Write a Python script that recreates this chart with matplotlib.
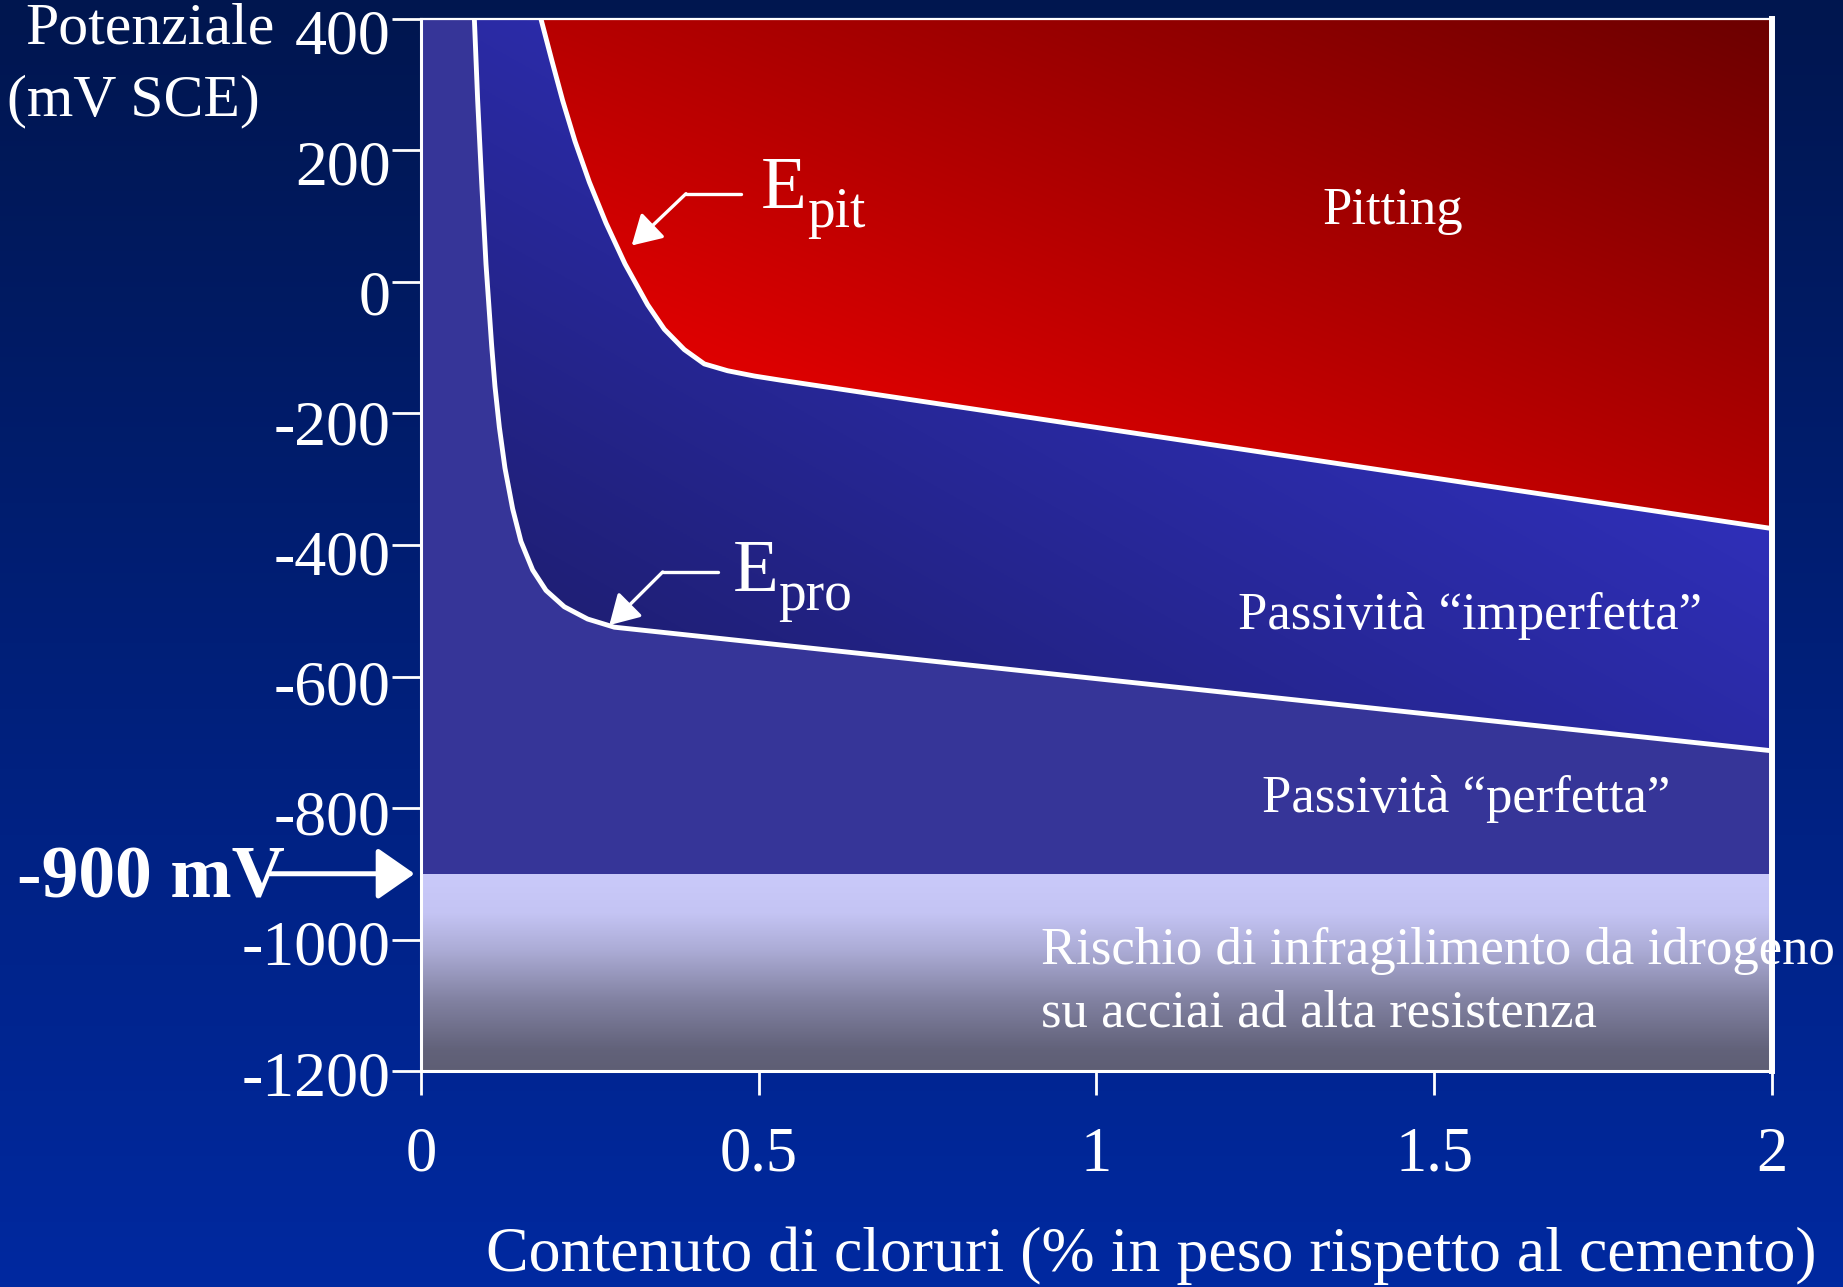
import numpy as np
import matplotlib
matplotlib.use("Agg")
import matplotlib.pyplot as plt
from matplotlib.colors import LinearSegmentedColormap
from matplotlib.patches import Polygon
from matplotlib.transforms import ScaledTranslation

plt.rcParams['font.family'] = ['Liberation Serif', 'DejaVu Serif']

# ---------------- data ----------------
x_min, x_max = 0.0, 2.0
y_min, y_max = -1200, 400
h_limit = -900          # -900 mV line

# protection potential curve (E_pro)
epro_x = [0.079, 0.0839, 0.0898, 0.0962, 0.1046, 0.1095, 0.116, 0.1243, 0.1357, 0.148,
          0.1653, 0.185, 0.2122, 0.2467, 0.2862, 2.0]
epro_y = [400, 276, 152, 27.5, -96.6, -158.7, -221, -283, -345, -394.6,
          -438, -469, -494, -512.6, -525, -713]
# pitting potential curve (E_pit)
epit_x = [0.1776, 0.1934, 0.2097, 0.228, 0.2492, 0.2739, 0.302, 0.3355, 0.3602, 0.3898,
          0.4194, 0.454, 0.4935, 0.533, 2.0]
epit_y = [400, 338, 276, 214, 152, 89.6, 27.5, -34.6, -71.8, -102.8,
          -124.6, -135, -143, -149.4, -375]

xticks = [0, 0.5, 1, 1.5, 2]
xtick_labels = ['0', '0.5', '1', '1.5', '2']
yticks = [400, 200, 0, -200, -400, -600, -800, -1000, -1200]
ytick_labels = ['400', '200', '0', '-200', '-400', '-600', '-800', '-1000', '-1200']

region_labels = ['Pitting', 'Passività “imperfetta”', 'Passività “perfetta”',
                 'Rischio di infragilimento da idrogeno\nsu acciai ad alta resistenza']
xlabel = 'Contenuto di cloruri (% in peso rispetto al cemento)'
ylabel_lines = ['Potenziale', '(mV SCE)']

# ---------------- colours ----------------
bg_cmap = LinearSegmentedColormap.from_list('bg', ['#00164f', '#001f78', '#0029a0'])
red_cmap = LinearSegmentedColormap.from_list('red', [(0, '#f00000'), (0.25, '#dc0000'), (1, '#6c0000')])
blue_cmap = LinearSegmentedColormap.from_list('blu', [(0, '#1c1c6c'), (0.13, '#1f1f76'),
                                                     (0.65, '#2f2fb8'), (1, '#3636c8')])
hyd_cmap = LinearSegmentedColormap.from_list('hyd', [(0, '#5e5e74'), (0.107, '#62627a'),
                                                    (0.36, '#8282a2'), (0.613, '#acacd6'),
                                                    (0.8, '#c4c4f4'), (1, '#cacafa')])
perf_color = '#363598'

fig = plt.figure(figsize=(18.43, 12.87), dpi=100)

# background gradient
bg = fig.add_axes([0, 0, 1, 1])
bg.imshow(np.linspace(0, 1, 256)[:, None], cmap=bg_cmap, aspect='auto', extent=[0, 1, 0, 1])
bg.set_axis_off()

ax = fig.add_axes([0.22843, 0.16783, 0.73304, 0.81741])
ax.set_facecolor('none')


def gradient_fill(verts, cmap, mode='diag', zorder=1):
    xs = [v[0] for v in verts]
    ys = [v[1] for v in verts]
    n = 400
    u = np.linspace(0, 1, n)
    U, V = np.meshgrid(u, u)
    T = (U + V) / 2 if mode == 'diag' else V
    poly = Polygon(verts, closed=True, fc='none', ec='none', transform=ax.transData)
    ax.add_patch(poly)
    im = ax.imshow(T, extent=[min(xs), max(xs), min(ys), max(ys)], origin='lower',
                   aspect='auto', cmap=cmap, vmin=0, vmax=1, zorder=zorder,
                   interpolation='bilinear')
    im.set_clip_path(poly)


# perfect passivity (base)
ax.fill_between([x_min, x_max], h_limit, y_max, color=perf_color, lw=0, zorder=0.5)
# imperfect passivity
imp_verts = list(zip(epro_x, epro_y)) + list(zip(epit_x, epit_y))[::-1]
gradient_fill(imp_verts, blue_cmap)
# pitting
pit_verts = list(zip(epit_x, epit_y)) + [(x_max, y_max)]
gradient_fill(pit_verts, red_cmap)
# hydrogen embrittlement
hyd_verts = [(x_min, y_min), (x_max, y_min), (x_max, h_limit), (x_min, h_limit)]
gradient_fill(hyd_verts, hyd_cmap, mode='vert')

# curves
ax.plot(epro_x, epro_y, color='white', lw=3.5, solid_joinstyle='round', zorder=5)
ax.plot(epit_x, epit_y, color='white', lw=3.5, solid_joinstyle='round', zorder=5)

ax.set_xlim(x_min, x_max)
ax.set_ylim(y_min, y_max)

# spines
for s in ['left', 'bottom']:
    ax.spines[s].set_color('white')
    ax.spines[s].set_linewidth(2.2)
ax.spines['right'].set_color('white')
ax.spines['right'].set_linewidth(4.3)
ax.spines['top'].set_color('white')
ax.spines['top'].set_linewidth(1.6)
for s in ax.spines.values():
    s.set_zorder(6)

ax.set_xticks(xticks)
ax.set_xticklabels(xtick_labels)
ax.set_yticks(yticks)
ax.set_yticklabels(ytick_labels)
ax.tick_params(axis='x', colors='white', length=17, width=2, pad=23, labelsize=45)
ax.tick_params(axis='y', colors='white', length=21, width=2, pad=1, labelsize=46)
# the slide's value labels sit a little below their ticks, more so towards the top
for v, lab in zip(yticks, ax.get_yticklabels()):
    dy = -(2 + 11 * (v - y_min) / (y_max - y_min)) / 100
    lab.set_transform(lab.get_transform() + ScaledTranslation(0, dy, fig.dpi_scale_trans))

# E_pit / E_pro annotations
arrow_kw = dict(arrowstyle='-|>,head_length=1.8,head_width=1.05', mutation_scale=10,
                color='white', lw=2.4, shrinkA=0, shrinkB=0)
ax.plot([0.4737, 0.3923], [134.3, 134.3], color='white', lw=2.4, zorder=7, solid_capstyle='round')
ax.annotate('', xy=(0.3119, 55.5), xytext=(0.3923, 134.3), arrowprops=arrow_kw, zorder=7)
ax.plot([0.4392, 0.3578], [-441, -441], color='white', lw=2.4, zorder=7, solid_capstyle='round')
ax.annotate('', xy=(0.2788, -521.9), xytext=(0.3578, -441), arrowprops=arrow_kw, zorder=7)

ax.text(0.503, 113, 'E', color='white', fontsize=54, ha='left', va='baseline', zorder=8)
ax.text(0.571, 84, 'pit', color='white', fontsize=40, ha='left', va='baseline', zorder=8)
ax.text(0.462, -470, 'E', color='white', fontsize=54, ha='left', va='baseline', zorder=8)
ax.text(0.529, -499, 'pro', color='white', fontsize=40, ha='left', va='baseline', zorder=8)

# region labels
ax.text(1.334, 88, region_labels[0], color='white', fontsize=38, ha='left', va='baseline', zorder=8)
ax.text(1.210, -528, region_labels[1], color='white', fontsize=38, ha='left', va='baseline', zorder=8)
ax.text(1.245, -806, region_labels[2], color='white', fontsize=38, ha='left', va='baseline', zorder=8)
l1, l2 = region_labels[3].split('\n')
ax.text(0.918, -1038, l1, color='white', fontsize=38, ha='left', va='baseline', zorder=8, clip_on=False)
ax.text(0.918, -1133, l2, color='white', fontsize=38, ha='left', va='baseline', zorder=8)

# -900 mV arrow
ax.annotate('', xy=(-0.0096, h_limit), xytext=(-0.2235, h_limit),
            arrowprops=dict(arrowstyle='-|>,head_length=2.3,head_width=1.6', mutation_scale=10,
                            color='white', lw=3.6, shrinkA=0, shrinkB=0),
            annotation_clip=False, zorder=8)
fig.text(0.0092, 1 - 898 / 1287, '-900 mV', color='white', fontsize=53, fontweight='bold',
         ha='left', va='baseline')

# axis labels
fig.text(0.6246, 16 / 1287, xlabel, color='white', fontsize=46, ha='center', va='baseline')
fig.text(275 / 1843, 1 - 44 / 1287, ylabel_lines[0], color='white', fontsize=43, ha='right', va='baseline')
fig.text(260 / 1843, 1 - 115 / 1287, ylabel_lines[1], color='white', fontsize=43, ha='right', va='baseline')

fig.savefig('out.png', dpi=100)
